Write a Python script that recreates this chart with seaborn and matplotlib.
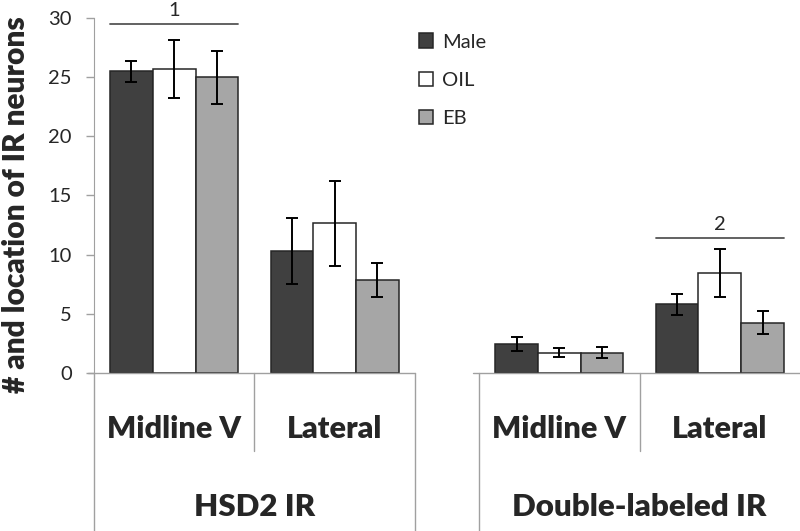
import pandas as pd
import seaborn as sns
import numpy as np
from matplotlib import pyplot as plt
from matplotlib.transforms import blended_transform_factory

# chart data
categories = ["Midline V", "Lateral", "Midline V", "Lateral"]
groups = ["HSD2 IR", "HSD2 IR", "Double-labeled IR", "Double-labeled IR"]
x_pos = [0, 1, 2.4, 3.4]
series = ["Male", "OIL", "EB"]
male_mean = [25.5, 10.3, 2.45, 5.8]
male_sem = [0.9, 2.8, 0.6, 0.9]
oil_mean = [25.7, 12.65, 1.72, 8.45]
oil_sem = [2.45, 3.6, 0.4, 2.05]
eb_mean = [25.0, 7.85, 1.72, 4.25]
eb_sem = [2.25, 1.45, 0.45, 0.97]
bracket_cat = [0, 3]
bracket_y = [29.5, 11.4]
bracket_text = ["1", "2"]
ylabel = "# and location of IR neurons"

palette = {"Male": "#404040", "OIL": "#ffffff", "EB": "#a6a6a6"}

rows = []
for name, means, sems in zip(series, [male_mean, oil_mean, eb_mean], [male_sem, oil_sem, eb_sem]):
    for p, m, s in zip(x_pos, means, sems):
        rows.append({"pos": p, "sex": name, "mean": m, "sem": s})
df = pd.DataFrame(rows)

sns.set_style("white")
plt.rcParams["font.family"] = ["Lato", "DejaVu Sans"]

fig = plt.figure(figsize=(8, 5.31), dpi=100)
ax = fig.add_axes([94 / 800, 0.2976, 1 - 94 / 800, 0.6685])

sns.barplot(data=df, x="pos", y="mean", hue="sex", hue_order=series, palette=palette,
            native_scale=True, width=0.8, errorbar=None, edgecolor="#262626",
            linewidth=1.1, saturation=1, ax=ax)

# error bars placed at the bar centres seaborn produced
for level, cont in zip(series, ax.containers):
    sub = df[df["sex"] == level]
    for bar in cont:
        cx = bar.get_x() + bar.get_width() / 2
        row = sub.iloc[np.argmin(np.abs(sub["pos"].values - cx))]
        ax.errorbar(cx, row["mean"], yerr=row["sem"], fmt="none", ecolor="black",
                    elinewidth=1.4, capsize=4, capthick=1.4, zorder=5)

ax.set_xlim(-0.5, 3.9)
ax.set_ylim(0, 30)
ax.set_yticks(range(0, 31, 5))
ax.set_xticks([])
ax.set_xlabel("")
ax.set_ylabel("")
for s in ["top", "right", "bottom"]:
    ax.spines[s].set_visible(False)
ax.spines["left"].set_color("#a0a0a0")
ax.tick_params(axis="y", direction="out", length=6, width=1, color="#a0a0a0",
               labelsize=14.5, pad=10, left=True)

# brackets
for c, yb, t in zip(bracket_cat, bracket_y, bracket_text):
    ax.plot([x_pos[c] - 0.4, x_pos[c] + 0.4], [yb, yb], color="#555555", lw=1.3, clip_on=False)
    ax.text(x_pos[c], yb + 0.7, t, ha="center", va="baseline", fontsize=14.5, clip_on=False)

# category axis with two-level labels
trans = blended_transform_factory(ax.transData, fig.transFigure)
axis_top = 0.2976
line_kw = dict(color="#a0a0a0", lw=1, clip_on=False, transform=trans)
for start in [x_pos[0] - 0.5, x_pos[2] - 0.5]:
    ax.plot([start - 0.035, start + 2], [axis_top, axis_top], **line_kw)
    ax.plot([start, start], [axis_top, 0], **line_kw)
    ax.plot([start + 1, start + 1], [axis_top, 0.1507], **line_kw)
ax.plot([x_pos[1] + 0.5, x_pos[1] + 0.5], [axis_top, 0], **line_kw)

for p, c in zip(x_pos, categories):
    ax.text(p, 0.192, c, transform=trans, ha="center", va="center", fontsize=22,
            fontweight="heavy")
for i in [0, 2]:
    ax.text((x_pos[i] + x_pos[i + 1]) / 2, 0.045, groups[i], transform=trans,
            ha="center", va="center", fontsize=22.5, fontweight="heavy")

fig.text(0.02, 0.614, ylabel, rotation=90, ha="center", va="center",
         fontsize=21.5, fontweight="heavy")

handles, labels = ax.get_legend_handles_labels()
ax.legend(handles, labels, loc="upper left", bbox_to_anchor=(419 / 800, 0.937),
          bbox_transform=fig.transFigure, frameon=False, borderpad=0, borderaxespad=0,
          fontsize=14.5, handlelength=0.7, handleheight=0.7, handletextpad=0.45,
          labelspacing=1.05)

fig.savefig("out.png", dpi=100)
